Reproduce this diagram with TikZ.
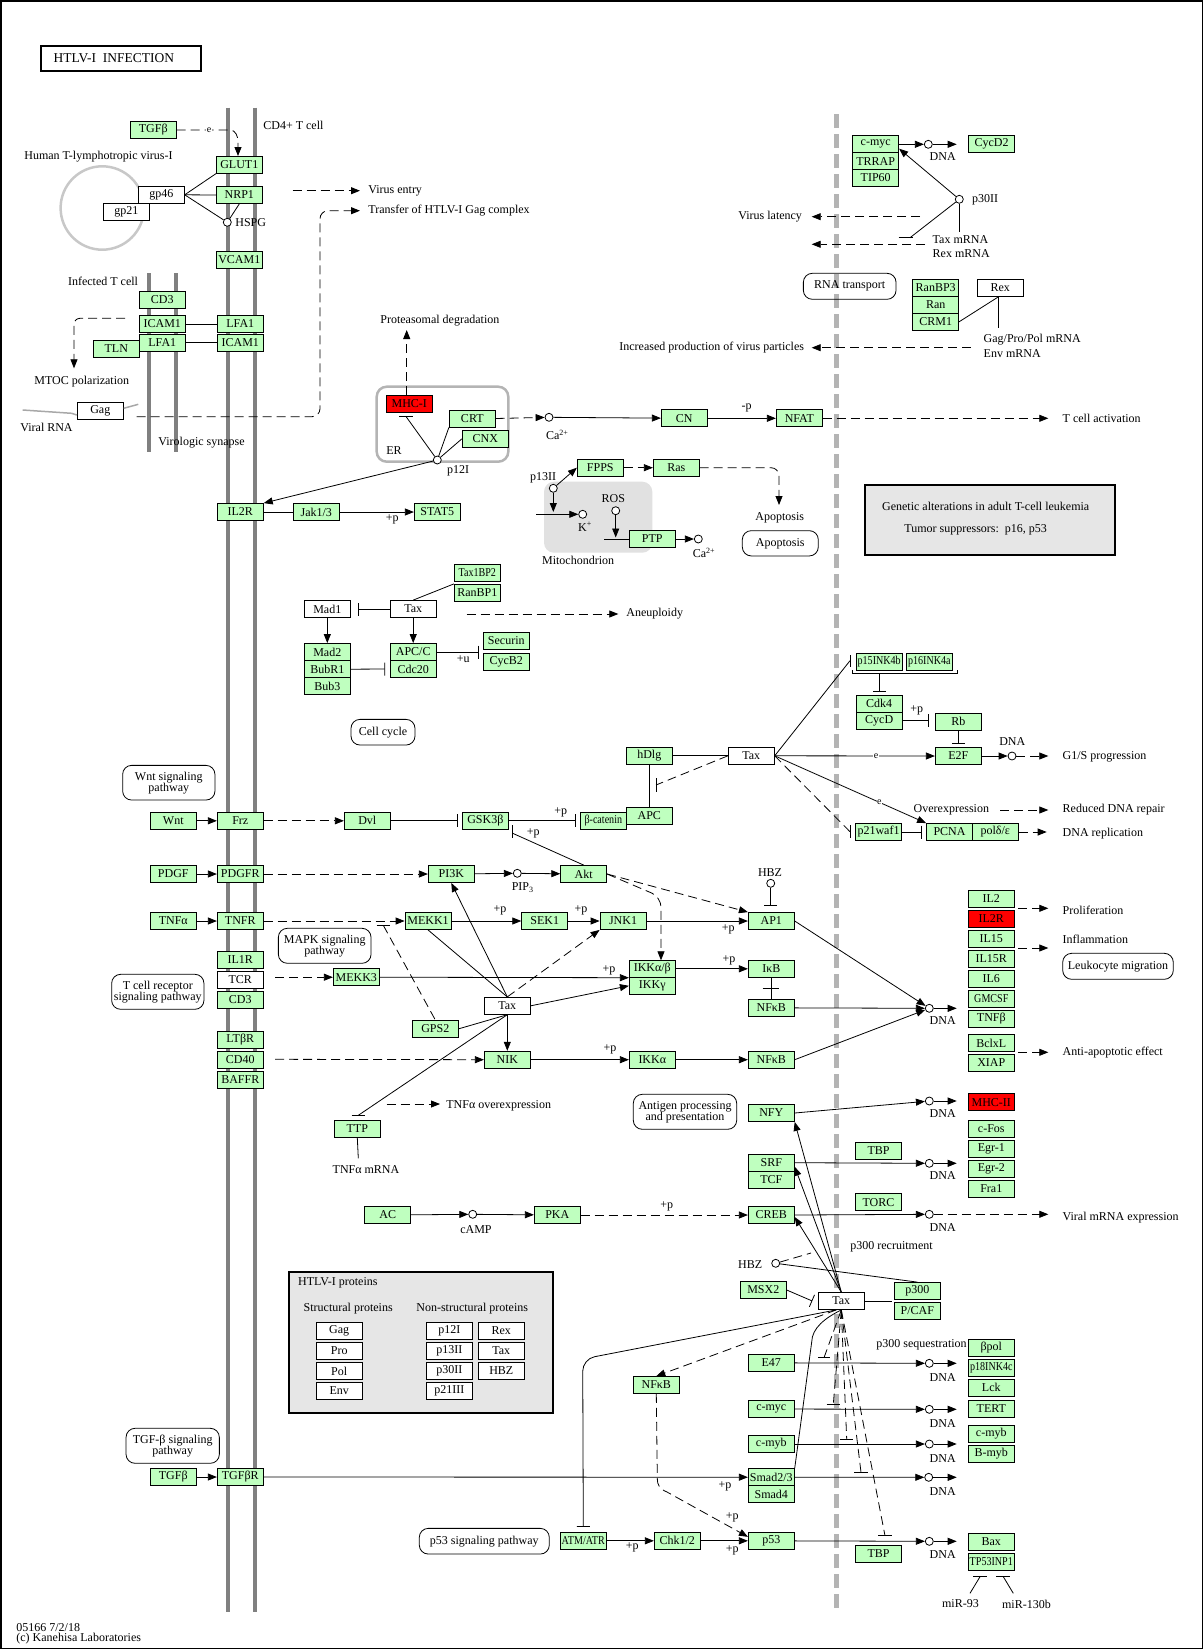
\documentclass[tikz,border=0pt]{standalone}
\usepackage{fontspec}
\setmainfont{Liberation Serif}
\usepackage{graphicx}
\usetikzlibrary{arrows.meta}
\definecolor{kg}{HTML}{BFFFBF}
\definecolor{kr}{HTML}{FF0000}
\definecolor{mem}{HTML}{808080}
\definecolor{nuc}{HTML}{B4B4B4}
\definecolor{boxg}{HTML}{E6E6E6}
\definecolor{mito}{HTML}{E1E1E1}
\definecolor{virc}{HTML}{C8C8C8}
\definecolor{erc}{HTML}{B4B4B4}
\definecolor{rnac}{HTML}{A8A8A8}
\newcommand\kf{\fontsize{12}{11}\selectfont}
\newcommand\ks{\fontsize{10}{10}\selectfont}
\newcommand\sq[1]{\scalebox{0.84}[1]{#1}}
\begin{document}
\begin{tikzpicture}[x=1pt,y=-1pt,line width=0.8pt,
  gb/.style={draw,fill=kg,minimum width=46pt,minimum height=17pt,inner sep=0pt,font=\kf},
  wb/.style={gb,fill=white},
  rb/.style={gb,fill=kr},
  dnac/.style={circle,draw,fill=white,minimum size=8pt,inner sep=0pt},
  tx/.style={inner sep=0pt,font=\kf},
  txw/.style={tx,anchor=west},
  pw/.style={draw,rounded corners=9pt,inner sep=0pt,font=\kf,align=center},
  arr/.style={-{Triangle[length=9pt,width=7pt]}},
  inh/.style={-{Bar[width=13pt]}},
  dsh/.style={dash pattern=on 9pt off 5pt},
  sm/.style={inner sep=0.5pt,font=\ks,fill=white}]
\useasboundingbox (0,0) rectangle (1203,1649);
% ---------- background ----------
\draw[line width=1.5pt] (0.75,0.75) rectangle (1202.25,1648.25);
\draw[line width=2pt] (40.7,45.7) rectangle (201.3,71);
\node[txw,font=\fontsize{13.5}{14}\selectfont] (title) at (53.3,58.3) {HTLV-I\ \ INFECTION};
\foreach \xx in {228,255} \draw[mem,line width=4pt] (\xx,107.7) -- (\xx,1611.7);
\foreach \xx in {149,176} \draw[mem,line width=4pt] (\xx,273.3) -- (\xx,451.7);
\draw[nuc,line width=5.3pt,dash pattern=on 14pt off 6pt] (836.7,114.3) -- (836.7,1609.3);
\draw[virc,line width=2.5pt] (102.3,208) circle[radius=41.7pt];
\draw[erc,line width=2.5pt,rounded corners=10pt] (376.7,386.7) rectangle (508.3,461.7);
\fill[mito,rounded corners=10pt] (544,481.7) rectangle (652.3,552.7);
\draw[line width=2pt,fill=boxg] (865,485) rectangle (1115,555);
\draw[line width=2pt,fill=boxg] (289.3,1271.7) rectangle (553.3,1413.3);
% ---------- nodes ----------
\node[gb] (TGFbA) at (153.3,130) {TGFβ};
\node[gb] (GLUT) at (239.3,164.8) {GLUT1};
\node[gb] (NRP) at (239.3,195) {NRP1};
\node[dnac] (HSPG) at (227.3,222.3) {};
\node[wb] (gpa) at (161.3,194.8) {gp46};
\node[wb] (gpb) at (126.3,211.8) {gp21};
\node[gb] (VCAM) at (239.3,259.8) {VCAM1};
\node[gb] (CD3a) at (162.3,299.8) {CD3};
\node[gb] (ICAMa) at (162.3,324) {ICAM1};
\node[gb] (LFAa) at (162.3,342.8) {LFA1};
\node[gb] (TLN) at (116.3,349) {TLN};
\node[gb] (LFAb) at (240.3,324) {LFA1};
\node[gb] (ICAMb) at (240.3,342.8) {ICAM1};
\node[wb] (Gag) at (100.3,411) {Gag};
\node[rb] (MHCI) at (409.3,403.5) {MHC-I};
\node[gb] (CRT) at (472.3,418.5) {CRT};
\node[gb] (CNX) at (485.3,438.8) {CNX};
\node[dnac] (p12) at (437.3,460) {};
\node[dnac] (CaA) at (549,417.3) {};
\node[gb] (CN) at (684.3,418.3) {CN};
\node[gb] (NFAT) at (799.3,418.3) {NFAT};
\node[gb] (IL2R) at (240.3,512) {IL2R};
\node[gb] (Jak) at (316.3,512) {Jak1/3};
\node[gb] (STAT) at (437.3,512) {STAT5};
\node[dnac] (p13) at (553.3,488.3) {};
\node[gb] (FPPS) at (600.3,467.7) {FPPS};
\node[gb] (Ras) at (676.3,467.7) {Ras};
\node[dnac] (Kp) at (582.7,514.3) {};
\node[dnac] (ROS) at (615.7,510.7) {};
\node[gb] (PTP) at (652.3,539) {PTP};
\node[dnac] (CaB) at (698.3,539) {};
\node[gb] (TaxBP) at (477.3,573) {\sq{Tax1BP2}};
\node[gb] (RanBPa) at (477.3,592.8) {RanBP1};
\node[wb] (Mad1) at (327.3,609) {Mad1};
\node[wb] (TaxCC) at (413.2,609) {Tax};
\node[gb] (Mad2) at (327.3,652) {Mad2};
\node[gb] (BubR) at (327.3,669.2) {BubR1};
\node[gb] (Bub3) at (327.3,686) {Bub3};
\node[gb] (APCC) at (413.2,652) {APC/C};
\node[gb] (Cdc) at (413.2,669) {Cdc20};
\node[gb] (Secu) at (506.3,640.8) {Securin};
\node[gb] (CycB) at (506.3,662) {CycB2};
\node[gb] (Wnt) at (173.3,820.8) {Wnt};
\node[gb] (Frz) at (240.3,820.8) {Frz};
\node[gb] (Dvl) at (367.3,820.8) {Dvl};
\node[gb] (GSK) at (485.3,820.8) {GSK3β};
\node[gb] (bcat) at (603.3,820.8) {\sq{β-catenin}};
\node[gb] (APC) at (649.3,815.8) {APC};
\node[gb] (hDlg) at (649.3,755.8) {hDlg};
\node[wb] (TaxCR) at (751.3,755.8) {Tax};
\node[gb] (p15) at (879.2,661.8) {\sq{p15INK4b}};
\node[gb] (p16) at (929.3,661.8) {\sq{p16INK4a}};
\node[gb] (Cdk4) at (879.2,703.8) {Cdk4};
\node[gb] (CycD) at (879.2,720.8) {CycD};
\node[gb] (Rb) at (958.3,721.7) {Rb};
\node[gb] (E2F) at (958.3,756) {E2F};
\node[dnac] (De2f) at (1012,756) {};
\node[gb] (p21) at (878.5,832) {p21waf1};
\node[gb] (PCNA) at (949.5,832) {PCNA};
\node[gb] (pol) at (995.3,832) {polδ/ε};
\node[gb] (PDGF) at (173.3,874) {PDGF};
\node[gb] (PDGFR) at (240.3,874) {PDGFR};
\node[gb] (PI3K) at (451.3,874) {PI3K};
\node[dnac] (PIP) at (517.3,873.3) {};
\node[gb] (Akt) at (583.7,874) {Akt};
\node[gb] (TNFa) at (173.3,921) {TNFα};
\node[gb] (TNFR) at (240.3,921) {TNFR};
\node[gb] (MEKKa) at (428,921) {MEKK1};
\node[gb] (SEK) at (544.7,921) {SEK1};
\node[gb] (JNK) at (623,921) {JNK1};
\node[gb] (AP1) at (771.3,921) {AP1};
\node[dnac] (HBZa) at (770.7,883.3) {};
\node[gb] (IL1R) at (240.3,960) {IL1R};
\node[wb] (TCR) at (240.3,980) {TCR};
\node[gb] (CD3b) at (240.3,1000) {CD3};
\node[gb] (MEKKb) at (356.3,977.2) {MEKK3};
\node[gb] (IKKab) at (652.3,968.8) {IKKα/β};
\node[gb] (IKKg) at (652.3,985.8) {IKKγ};
\node[gb] (IkB) at (771.3,968.8) {IκB};
\node[gb] (NFkBa) at (771.3,1007.8) {NFκB};
\node[wb] (TaxC) at (507.3,1005.8) {Tax};
\node[gb] (GPS) at (435.3,1028.8) {GPS2};
\node[gb] (LTbR) at (240.3,1040) {LTβR};
\node[gb] (CD40) at (240.3,1060) {CD40};
\node[gb] (BAFF) at (240.3,1080) {BAFFR};
\node[gb] (NIK) at (507.3,1059.7) {NIK};
\node[gb] (IKKa) at (652.3,1059.7) {IKKα};
\node[gb] (NFkBb) at (771.3,1059.7) {NFκB};
\node[dnac] (Dap) at (929.3,1008.3) {};
\node[gb] (IL2) at (991.3,899) {IL2};
\node[rb] (IL2Rr) at (991.3,919) {IL2R};
\node[gb] (IL15) at (991.3,939) {IL15};
\node[gb] (IL15R) at (991.3,959) {IL15R};
\node[gb] (IL6) at (991.3,979) {IL6};
\node[gb] (GMCSF) at (991.3,999) {\sq{GMCSF}};
\node[gb] (TNFb) at (991.3,1019) {TNFβ};
\node[gb] (Bclx) at (991.3,1043) {BclxL};
\node[gb] (XIAP) at (991.3,1063) {XIAP};
\node[rb] (MHCII) at (991.3,1102.3) {MHC-II};
\node[gb] (cFos) at (991.3,1129) {c-Fos};
\node[gb] (Egr1) at (991.3,1149) {Egr-1};
\node[gb] (Egr2) at (991.3,1169) {Egr-2};
\node[gb] (Fra1) at (991.3,1189) {Fra1};
\node[gb] (TBPa) at (878.5,1151) {TBP};
\node[gb] (TORC) at (878.5,1202.3) {TORC};
\node[dnac] (Dnfy) at (929.3,1101) {};
\node[dnac] (Dsrf) at (929.3,1163.3) {};
\node[dnac] (Dcreb) at (929.3,1214.3) {};
\node[gb] (TTP) at (357.3,1128.7) {TTP};
\node[gb] (NFY) at (771.3,1113) {NFY};
\node[gb] (SRF) at (771.3,1162.7) {SRF};
\node[gb] (TCF) at (771.3,1179.7) {TCF};
\node[gb] (CREB) at (771.3,1215) {CREB};
\node[gb] (AC) at (387.7,1215) {AC};
\node[dnac] (cAMP) at (472.7,1214.3) {};
\node[gb] (PKA) at (557.3,1215) {PKA};
\node[dnac] (HBZb) at (775.7,1263.3) {};
\node[gb] (MSX) at (763.3,1290) {MSX2};
\node[wb] (TaxL) at (841.3,1301) {Tax};
\node[gb] (p300) at (917.3,1291) {p300};
\node[gb] (PCAF) at (917.3,1311) {P/CAF};
\node[gb] (bpol) at (991.3,1347.7) {βpol};
\node[gb] (p18) at (991.3,1368) {\sq{p18INK4c}};
\node[gb] (Lck) at (991.3,1387.7) {Lck};
\node[gb] (TERT) at (991.3,1408.8) {TERT};
\node[gb] (cmybb) at (991.3,1434) {c-myb};
\node[gb] (Bmyb) at (991.3,1454) {B-myb};
\node[gb] (Bax) at (991.3,1541.7) {Bax};
\node[gb] (TP53) at (991.3,1561.8) {\sq{TP53INP1}};
\node[gb] (E47) at (771.3,1362.8) {E47};
\node[gb] (cmycb) at (771.3,1409) {c-myc};
\node[gb] (cmyba) at (771.3,1444) {c-myb};
\node[gb] (Smad23) at (771.3,1477.2) {Smad2/3};
\node[gb] (Smad4) at (771.3,1494) {Smad4};
\node[gb] (p53) at (771.3,1540.8) {p53};
\node[gb] (NFkBc) at (656.3,1385) {NFκB};
\node[gb] (Chk) at (677.3,1540.8) {Chk1/2};
\node[gb] (ATM) at (583.3,1540.8) {\sq{ATM/ATR}};
\node[gb] (TBPb) at (878.5,1553.8) {TBP};
\node[dnac] (De47) at (929.3,1363.3) {};
\node[dnac] (Dmyc) at (929.3,1409.3) {};
\node[dnac] (Dmyb) at (929.3,1444) {};
\node[dnac] (Dsmad) at (928.7,1477.3) {};
\node[dnac] (Dp53) at (929.3,1541.3) {};
\node[gb] (TGFbB) at (173.3,1477) {TGFβ};
\node[gb] (TGFbR) at (240.3,1477) {TGFβR};
\node[gb] (cmyca) at (875.7,144.3) {c-myc};
\node[gb] (TRRAP) at (875.7,161.3) {TRRAP};
\node[gb] (TIP) at (875.7,178) {TIP60};
\node[dnac] (Dtop) at (928.3,144.3) {};
\node[gb] (CycD2) at (991.5,144.2) {CycD2};
\node[dnac] (p30) at (959.3,199.3) {};
\node[gb] (RanBPc) at (935.7,288) {RanBP3};
\node[gb] (Ran) at (935.7,304.8) {Ran};
\node[gb] (CRM) at (935.7,321.8) {CRM1};
\node[wb] (Rex) at (1000.3,288) {Rex};
\node[wb] (sGag) at (339.2,1331) {Gag};
\node[wb] (sPro) at (339.2,1351) {Pro};
\node[wb] (sPol) at (339.2,1371) {Pol};
\node[wb] (sEnv) at (339.2,1391) {Env};
\node[wb] (np12) at (449.3,1331) {p12I};
\node[wb] (np13) at (449.3,1351) {p13II};
\node[wb] (np30) at (449.3,1371) {p30II};
\node[wb] (np21) at (449.3,1391) {p21III};
\node[wb] (nRex) at (501.3,1331) {Rex};
\node[wb] (nTax) at (501.3,1351) {Tax};
\node[wb] (nHBZ) at (501.3,1371) {HBZ};
% pathway nodes
\node[pw,minimum width=92.3pt,minimum height=34.7pt] (pwWnt) at (168.8,782.7) {Wnt signaling\\pathway};
\node[pw,minimum width=92.3pt,minimum height=35pt] (pwTCR) at (157.8,991.8) {T cell receptor\\signaling pathway};
\node[pw,minimum width=92.7pt,minimum height=35pt] (pwMAPK) at (324.7,945.8) {MAPK signaling\\pathway};
\node[pw,minimum width=64pt,minimum height=25.7pt] (pwCC) at (383,732.2) {Cell cycle};
\node[pw,minimum width=92.7pt,minimum height=26pt] (pwRNA) at (849.7,286.3) {RNA transport};
\node[pw,minimum width=76pt,minimum height=25.3pt] (pwApo) at (780.3,543.3) {Apoptosis};
\node[pw,minimum width=110.6pt,minimum height=26pt] (pwLeu) at (1118,966.3) {Leukocyte migration};
\node[pw,minimum width=103.4pt,minimum height=35pt] (pwAg) at (685,1111.8) {Antigen processing\\and presentation};
\node[pw,minimum width=93.3pt,minimum height=35pt] (pwTGF) at (172.7,1445.8) {TGF-β signaling\\pathway};
\node[pw,minimum width=130pt,minimum height=25.7pt] (pwp53) at (484.3,1541.2) {p53 signaling pathway};
% ---------- connectors ----------
\draw[dsh,arr] (TGFbA.east) -- (230,130) to[out=0,in=90] (238,142) -- (238,156);
\node[sm] at (209,130) {e};
\draw (gpa.east) -- (GLUT.south west);
\draw (gpa.east) -- (NRP.west);
\draw (gpa.east) -- (HSPG);
\draw (NRP.south) -- (HSPG);
\draw (ICAMa) -- (LFAb);
\draw (LFAa) -- (ICAMb);
\draw[dsh,arr] (292.7,190.7) -- (360,190.7);
\draw[dsh,arr,rounded corners=8pt] (136.7,416.7) -- (320,416.7) -- (320,210.7) -- (360,210.7);
\draw[dsh,arr,rounded corners=6pt] (125,318.3) -- (74,318.3) -- (74,368.3);
\draw[rnac,line width=1.5pt] (22.7,410) -- (71.7,413.3) -- ([yshift=-4pt]Gag.west);
\draw[rnac,line width=1.5pt] ([yshift=2.7pt]Gag.east) -- (138.3,404.3);
\draw[dsh,arr] ([xshift=-2.6pt]MHCI.north) -- (406.7,330);
\draw (p12) -- (CRT.south west);
\draw (p12) -- (CNX.west);
\draw (p12) -- (406,416.5);
\draw (399,416.5) -- (413,416.5);
\draw[arr] (p12) -- (IL2R.north east);
\draw[dsh,arr] (CRT.east) -- (CaA);
\draw[arr] (CaA) -- (CN);
\draw[arr] (CN) -- (NFAT);
\draw[dsh,arr] (NFAT.east) -- (1048.3,418.3);
\draw (IL2R) -- (Jak);
\draw[arr] (Jak) -- (STAT);
\draw[arr] (p13) -- (FPPS.west);
\draw[dsh,arr] (FPPS) -- (Ras);
\draw[dsh,arr,rounded corners=8pt] (Ras.east) -- (779,467.7) -- (779,505);
\draw[arr] (p13) -- (553.3,512);
\draw[arr] (536,514.3) -- (Kp);
\draw[arr] (ROS) -- (615.7,537.5);
\draw (604,539) -- (PTP.west);
\draw[arr] (PTP) -- (CaB);
\draw[inh] (TaxCC) -- ([xshift=7pt]Mad1.east);
\draw[arr] (Mad1) -- (Mad2);
\draw[inh] (BubR.east) -- ([xshift=-4.6pt]Cdc.west);
\draw[arr] (TaxCC) -- (APCC);
\draw (TaxCC.north) -- (RanBPa.north west);
\draw[inh] (APCC.east) -- (478.3,652);
\draw[dsh,arr] (466.7,614) -- (618.3,614);
\draw[arr] (Wnt) -- (Frz);
\draw[dsh,arr] (Frz) -- (Dvl);
\draw[inh] (Dvl) -- ([xshift=-4pt]GSK.west);
\draw[inh] (GSK) -- ([xshift=-4.6pt]bcat.west);
\draw (hDlg) -- (APC);
\draw (hDlg) -- (TaxCR);
\draw[dsh] (TaxCR.west) -- (656,785);
\draw (656,778) -- (656,791.7);
\draw (TaxCR.east) -- (850,660.7);
\draw (850,655) -- (850,666.7);
\draw[arr] (TaxCR.east) -- (E2F.west);
\node[sm] at (876,756) {e};
\draw[arr] (TaxCR.east) -- (PCNA.north west);
\node[sm] at (879.3,802) {e};
\draw[dsh] (TaxCR.east) -- (850,831.7);
\draw (850,825) -- (850,838.3);
\draw (852.7,670) -- (852.7,673.3) -- (957.3,673.3) -- (957.3,670);
\draw[inh] (879,673.3) -- (879,691.7);
\draw[inh] (CycD.east) -- (928.7,720.8);
\draw[inh] (Rb.south) -- (958.3,744);
\draw[arr] (E2F) -- (De2f);
\draw[dsh,arr] (De2f) -- (1048.3,756);
\draw[inh] (p21) -- ([xshift=-4pt]PCNA.west);
\draw[dsh,arr] (pol.east) -- (1046.7,832);
\draw[dsh,arr] (1000,810) -- (1048.3,810);
\draw[dsh,arr] (1018.3,908.3) -- (1048.3,908.3);
\draw[dsh,arr] (1018.3,948) -- (1048.3,948);
\draw[dsh,arr] (1018.3,1052.3) -- (1048.3,1052.3);
\draw[arr] (PDGF) -- (PDGFR);
\draw[dsh,arr] (PDGFR) -- (PI3K);
\draw[arr] (PI3K) -- (PIP);
\draw[arr] (PIP) -- (Akt);
\draw (Akt.north) -- (512.7,833.3);
\draw (512.7,825) -- (512.7,838.3);
\draw[dsh,arr] (Akt.east) -- (AP1.north west);
\draw[dsh,arr,rounded corners=10pt] (Akt.east) -- (661,897) -- (661,960.3);
\draw[arr] (TNFa) -- (TNFR);
\draw[dsh,arr] (TNFR) -- (MEKKa);
\draw (376.7,925.3) -- (390,925.3);
\draw[dsh] (383.3,925.3) -- (GPS.north);
\draw[arr] (MEKKa) -- (SEK);
\draw[arr] (SEK) -- (JNK);
\draw[arr] (JNK) -- (AP1);
\draw[inh] (HBZa) -- (770.7,906);
\draw[arr] (AP1.east) -- (Dap);
\draw[dsh,arr] (275,977.2) -- (MEKKb.west);
\draw[arr] (MEKKb.east) -- (IKKab.south west);
\draw[arr] (IKKab) -- (IkB);
\draw (IkB) -- (NFkBa);
\draw (762.7,988.3) -- (778.7,988.3);
\draw[arr] (NFkBa) -- (Dap);
\draw[arr] (TaxC.north) -- (PI3K.south);
\draw[dsh,arr] (TaxC.north) -- (JNK.south west);
\draw[arr] (TaxC.east) -- (IKKg.west);
\draw[arr] (TaxC) -- (NIK);
\draw (TaxC.north) -- (MEKKa.south);
\draw (TaxC.south) -- (GPS.east);
\draw (TaxC.south) -- (358.3,1115.3);
\draw (351.7,1115.3) -- (365,1115.3);
\draw[dsh,arr] (275,1059.3) -- (NIK.west);
\draw[arr] (NIK) -- (IKKa);
\draw[arr] (IKKa) -- (NFkBb);
\draw[arr] (NFkBb.east) -- (Dap);
\draw[arr] (Dap) -- (956.7,1008.3);
\draw (TTP.south) -- (358.3,1158.3);
\draw[dsh,arr] (386.7,1104) -- (440,1104);
\draw[arr] (NFY.east) -- (Dnfy);
\draw[arr] (Dnfy) -- (956.7,1101);
\draw[arr] (SRF.east) -- (Dsrf);
\draw[arr] (Dsrf) -- (956.7,1163.3);
\draw[arr] (CREB.east) -- (Dcreb);
\draw[dsh,arr] (Dcreb) -- (1048.3,1214.3);
\draw[arr] (AC) -- (cAMP);
\draw[arr] (cAMP) -- (PKA);
\draw[dsh,arr] (PKA) -- (CREB);
\draw[arr] (TaxL.north) -- (NFY.south east);
\draw[arr] (TaxL.north) -- ([yshift=-4pt]SRF.east);
\draw[arr] (TaxL.north) -- ([yshift=-2pt]CREB.east);
\draw (HBZb) -- (p300.north);
\draw[dsh] (HBZb) -- (811,1253);
\draw[inh] (MSX.east) -- ([xshift=-5.6pt]TaxL.west);
\draw (TaxL.east) -- (891.7,1301);
\draw[dsh,arr] ([xshift=-5pt]TaxL.south) -- (NFkBc.north);
\draw[inh,rounded corners=12pt] ([xshift=-5pt]TaxL.south) -- (582.7,1359) -- ([yshift=5pt]ATM.north);
\draw[dsh,arr] (NFkBc.south) -- (657.3,1478) .. controls (657.3,1486) and (660,1489) .. (667,1492) -- ([yshift=4pt]p53.west);
\draw (TaxL.south) .. controls (825,1318) and (812,1328) .. (811.7,1342) -- (Smad23.north east);
\draw[dsh] (TaxL.south) -- (824,1357.7);
\draw (818.3,1357.7) -- (830,1357.7);
\draw[dsh] (TaxL.south) -- (833.3,1404);
\draw (826.7,1404) -- (840,1404);
\draw[dsh] (TaxL.south) -- (846.7,1439);
\draw (840,1439) -- (853.3,1439);
\draw[dsh] (TaxL.south) -- (861,1472.3);
\draw (854.3,1472.3) -- (867.7,1472.3);
\draw[dsh] (TaxL.south) -- (885,1535.7);
\draw (878.3,1535.7) -- (891.7,1535.7);
\draw[arr] (TGFbB) -- (TGFbR);
\draw[arr] (TGFbR) -- (Smad23);
\draw[arr] (E47) -- (De47);
\draw[arr] (De47) -- (956.7,1363.3);
\draw[arr] (cmycb) -- (Dmyc);
\draw[arr] (Dmyc) -- (956.7,1409.3);
\draw[arr] (cmyba) -- (Dmyb);
\draw[arr] (Dmyb) -- (956.7,1444);
\draw[arr] (Smad23) -- (Dsmad);
\draw[arr] (Dsmad) -- (956.7,1477.3);
\draw[arr] (p53) -- (Dp53);
\draw[arr] (Dp53) -- (956.7,1541.3);
\draw[arr] (ATM) -- (Chk);
\draw[arr] (Chk) -- (p53);
\draw (973.3,1576.7) -- (986.7,1576.7);
\draw (980,1576.7) -- (970,1593.3);
\draw (996,1576.7) -- (1010,1576.7);
\draw (1003.3,1576.7) -- (1013.3,1593.3);
\draw[arr] (cmyca) -- (Dtop);
\draw[arr] (Dtop) -- (956.7,144.3);
\draw[arr] (p30) -- ([yshift=4.5pt]cmyca.south east);
\draw (p30) -- (959.3,231.7);
\draw (p30) -- (910,237.7);
\draw (898.7,237.7) -- (913.3,237.7);
\draw[dsh,arr] (920,216.7) -- (811.7,216.7);
\draw[dsh,arr] (925,244.3) -- (811.7,244.3);
\draw ([xshift=-2pt]Rex.south) -- (CRM.east);
\draw ([xshift=-2pt]Rex.south) -- (998.3,328.3);
\draw[dsh,arr] (970.7,347.7) -- (811.7,347.7);
% ---------- labels ----------
\node[txw] at (263,125) {CD4+ T cell};
\node[txw] at (24,157) {Human T-lymphotropic virus-I};
\node[txw] at (235,223) {HSPG};
\node[txw] at (368,191) {Virus entry};
\node[txw] at (368,211) {Transfer of HTLV-I Gag complex};
\node[txw] at (67.7,281.7) {Infected T cell};
\node[txw] at (34,381.7) {MTOC polarization};
\node[txw] at (20,427.3) {Viral RNA};
\node[txw] at (158,442.7) {Virologic synapse};
\node[txw] at (380,320.7) {Proteasomal degradation};
\node[txw] at (386,450.7) {ER};
\node[txw] at (446.7,470.7) {p12I};
\node[txw] at (545.7,435) {Ca\textsuperscript{2+}};
\node[tx] at (746.7,408.3) {-p};
\node[txw] at (1062.3,418.3) {T cell activation};
\node[txw] at (738,216.7) {Virus latency};
\node[txw] at (619,347.7) {Increased production of virus particles};
\node[tx] at (942.7,156.7) {DNA};
\node[txw] at (971.7,199.3) {p30II};
\node[txw] at (932.3,239.3) {Tax mRNA};
\node[txw] at (932.3,254) {Rex mRNA};
\node[txw] at (983.3,340) {Gag/Pro/Pol mRNA};
\node[txw] at (983.3,353.3) {Env mRNA};
\node[tx] at (392.3,519) {+p};
\node[tx] at (543,477.3) {p13II};
\node[tx] at (613.3,498.3) {ROS};
\node[tx] at (585,526.7) {K\textsuperscript{+}};
\node[tx] at (704,552.7) {Ca\textsuperscript{2+}};
\node[txw] at (541.7,560) {Mitochondrion};
\node[tx] at (779.7,517.7) {Apoptosis};
\node[txw] at (626,614) {Aneuploidy};
\node[tx] at (463.3,659.3) {+u};
\node[txw] at (881.7,506.7) {Genetic alterations in adult T-cell leukemia};
\node[txw] at (904,529.3) {Tumor suppressors:\ \ p16, p53};
\node[tx] at (916.7,710) {+p};
\node[tx] at (1012.3,741.7) {DNA};
\node[txw] at (1062.3,757) {G1/S progression};
\node[txw] at (913.3,810) {Overexpression};
\node[txw] at (1062.3,810) {Reduced DNA repair};
\node[txw] at (1062.3,833.3) {DNA replication};
\node[tx] at (560.7,812.3) {+p};
\node[tx] at (533.3,833.3) {+p};
\node[tx] at (522.7,887.7) {PIP\textsubscript{3}};
\node[tx] at (770,872.3) {HBZ};
\node[tx] at (500,910.7) {+p};
\node[tx] at (581,910.7) {+p};
\node[tx] at (728.3,929.3) {+p};
\node[tx] at (609,970) {+p};
\node[tx] at (729,960.7) {+p};
\node[tx] at (610,1049.3) {+p};
\node[txw] at (1062.3,910) {Proliferation};
\node[txw] at (1062.3,939.3) {Inflammation};
\node[txw] at (1062.3,1052.3) {Anti-apoptotic effect};
\node[tx] at (942.7,1020.7) {DNA};
\node[tx] at (942.7,1114) {DNA};
\node[tx] at (942.7,1176) {DNA};
\node[tx] at (942.7,1227.3) {DNA};
\node[tx] at (942.7,1377.3) {DNA};
\node[tx] at (942.7,1423.3) {DNA};
\node[tx] at (942.7,1458.3) {DNA};
\node[tx] at (942.7,1491.7) {DNA};
\node[tx] at (942.7,1555) {DNA};
\node[txw] at (446,1106) {TNFα overexpression};
\node[txw] at (332.3,1169.3) {TNFα mRNA};
\node[tx] at (476,1230) {cAMP};
\node[tx] at (666.7,1206.7) {+p};
\node[txw] at (1062.3,1218) {Viral mRNA expression};
\node[txw] at (850,1246.7) {p300 recruitment};
\node[txw] at (737.7,1265) {HBZ};
\node[txw] at (876,1345) {p300 sequestration};
\node[tx] at (725,1486) {+p};
\node[tx] at (632.3,1547.7) {+p};
\node[tx] at (732.3,1550) {+p};
\node[tx] at (732.3,1517.3) {+p};
\node[txw] at (941.7,1604) {miR-93};
\node[txw] at (1001.7,1604) {miR-130b};
\node[txw] at (297.7,1282.7) {HTLV-I proteins};
\node[txw] at (303.3,1309) {Structural proteins};
\node[txw] at (416,1309) {Non-structural proteins};
\node[txw] at (16,1627.3) {05166 7/2/18};
\node[txw] at (16,1638.3) {(c) Kanehisa Laboratories};
\end{tikzpicture}
\end{document}
